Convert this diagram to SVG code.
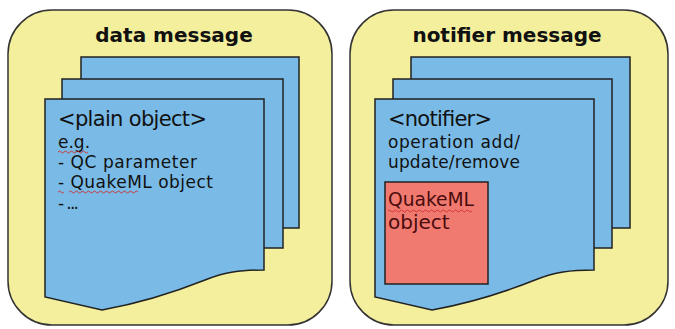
<svg xmlns="http://www.w3.org/2000/svg" width="675" height="329" viewBox="0 0 675 329">
<style>
.panel{fill:#f4ef9c;stroke:#333;stroke-width:1.5}
.page{fill:#79bbe6;stroke:#222;stroke-width:1.5}
.obj{fill:#f07a70;stroke:#222;stroke-width:1.5}
.title{font-family:"DejaVu Sans",sans-serif;font-weight:bold;font-size:20px;fill:#111;text-anchor:middle}
.big{font-family:"DejaVu Sans",sans-serif;font-size:21px;fill:#111}
.txt{font-family:"DejaVu Sans",sans-serif;font-size:17px;fill:#111}
.red{font-family:"DejaVu Sans",sans-serif;font-size:20px;fill:#4a0c0c}
.sq{fill:none;stroke:#d03030;stroke-width:0.9}
</style>
<rect width="675" height="329" fill="#fff"/>
<g id="data-message">
<rect class="panel" x="8" y="10" width="324" height="315" rx="44"/>
<text class="title" x="174" y="42">data message</text>
<rect class="page" x="81" y="57" width="218" height="171"/>
<rect class="page" x="62" y="79" width="221" height="169"/>
<path class="page" d="M45 99 H264 V270 C240 270 225 272 205 280 C170 294 135 304 102 310 L45 297 Z"/>
<text class="big" x="58" y="126" textLength="149" lengthAdjust="spacing">&lt;plain object&gt;</text>
<text class="txt" x="58" y="148">e.g.</text>
<text class="txt" x="58" y="168" textLength="139" lengthAdjust="spacing">- QC parameter</text>
<text class="txt" x="58" y="188" textLength="155" lengthAdjust="spacing">- QuakeML object</text>
<text class="txt" x="58" y="209" font-size="11" textLength="21" lengthAdjust="spacing">- ...</text>
<path class="sq" d="M58 152 q1.5 -2 3 0 t3 0 t3 0 t3 0 t3 0 t3 0 t3 0 t3 0 t3 0 t3 0"/>
<path class="sq" d="M58 192 q1.5 -2 3 0 t3 0 M69 192 q1.5 -2 3 0 t3 0 t3 0 t3 0 t3 0 t3 0 t3 0 t3 0 t3 0 t3 0 t3 0 t3 0 t3 0 t3 0 t3 0 t3 0 t3 0 t3 0 t3 0 t3 0 t3 0 t3 0 t3 0"/>
</g>
<g id="notifier-message">
<rect class="panel" x="350" y="10" width="318" height="315" rx="44"/>
<text class="title" x="507" y="42">notifier message</text>
<rect class="page" x="411" y="57" width="219" height="171"/>
<rect class="page" x="393" y="79" width="219" height="169"/>
<path class="page" d="M375 99 H594 V270 C570 270 555 272 535 280 C500 294 465 304 432 310 L375 297 Z"/>
<text class="big" x="388" y="126" textLength="104" lengthAdjust="spacing">&lt;notifier&gt;</text>
<text class="txt" x="388" y="148" textLength="132" lengthAdjust="spacing">operation add/</text>
<text class="txt" x="388" y="168" textLength="132" lengthAdjust="spacing">update/remove</text>
<g id="quakeml-object">
<rect class="obj" x="385" y="182" width="103" height="102"/>
<text class="red" x="388" y="205.5" textLength="86" lengthAdjust="spacingAndGlyphs">QuakeML</text>
<text class="red" x="388" y="229">object</text>
<path class="sq" d="M388 211 q1.5 -2 3 0 t3 0 t3 0 t3 0 t3 0 t3 0 t3 0 t3 0 t3 0 t3 0 t3 0 t3 0 t3 0 t3 0 t3 0 t3 0 t3 0 t3 0 t3 0 t3 0 t3 0 t3 0 t3 0 t3 0 t3 0 t3 0 t3 0 t3 0"/>
</g>
</g>
<g id="connectors"/>
</svg>
